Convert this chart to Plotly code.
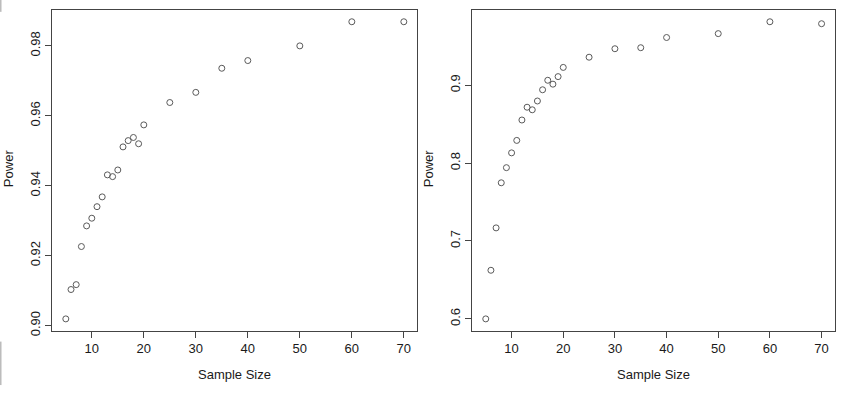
import plotly.graph_objects as go

sample_size = [5, 6, 7, 8, 9, 10, 11, 12, 13, 14, 15, 16, 17, 18, 19, 20, 25, 30, 35, 40, 50, 60, 70]
power_left = [0.9019, 0.9103, 0.9117, 0.9226, 0.9285, 0.9307, 0.9340, 0.9368, 0.9431, 0.9426,
              0.9445, 0.9511, 0.9529, 0.9538, 0.9520, 0.9574, 0.9638, 0.9667, 0.9736, 0.9758,
              0.9800, 0.9869, 0.9869]
power_right = [0.600, 0.6624, 0.7168, 0.7747, 0.7941, 0.8131, 0.8291, 0.8553, 0.8717, 0.8684,
               0.8797, 0.8941, 0.9063, 0.9013, 0.9110, 0.9228, 0.9359, 0.9468, 0.9481, 0.9612,
               0.9662, 0.9814, 0.9789]
left_ticks = [0.90, 0.92, 0.94, 0.96, 0.98]
right_ticks = [0.6, 0.7, 0.8, 0.9]
x_ticks = [10, 20, 30, 40, 50, 60, 70]
x_title = "Sample Size"
y_title = "Power"


def r_range(v):
    lo, hi = min(v), max(v)
    pad = (hi - lo) * 0.04
    return [lo - pad, hi + pad]


FONT = "Liberation Sans, Arial, sans-serif"
TXT = "#1a1a1a"
PT = "#5a5a5a"
LINE = "#444444"

fig = go.Figure()
for xa, ya, vals in (("x", "y", power_left), ("x2", "y2", power_right)):
    fig.add_trace(go.Scatter(x=sample_size, y=vals, mode="markers", xaxis=xa, yaxis=ya,
                             marker=dict(symbol="circle-open", size=6, color=PT, line=dict(width=1, color=PT)),
                             showlegend=False, hoverinfo="skip"))

ydom = [0.1497, 0.9746]
xd1 = [0.0618, 0.4933]
xd2 = [0.5583, 0.9870]

common_x = dict(showgrid=False, zeroline=False, showline=True, mirror=True, linecolor=LINE, linewidth=1,
                ticks="outside", ticklen=6, tickwidth=1, tickcolor=LINE, tickvals=x_ticks,
                tickfont=dict(family=FONT, size=13, color=TXT), range=r_range(sample_size))
common_y = dict(showgrid=False, zeroline=False, showline=True, mirror=True, linecolor=LINE, linewidth=1,
                ticks="outside", ticklen=6, tickwidth=1, tickcolor=LINE, tickangle=-90,
                tickfont=dict(family=FONT, size=13, color=TXT))

fig.update_layout(
    width=846, height=394,
    margin=dict(l=0, r=0, t=0, b=0),
    paper_bgcolor="white", plot_bgcolor="white",
    xaxis=dict(domain=xd1, anchor="y", **common_x),
    yaxis=dict(domain=ydom, anchor="x", tickvals=left_ticks, tickformat=".2f",
               range=r_range(power_left), **common_y),
    xaxis2=dict(domain=xd2, anchor="y2", **common_x),
    yaxis2=dict(domain=ydom, anchor="x2", tickvals=right_ticks, tickformat=".1f",
                range=r_range(power_right), **common_y),
)

ann_font = dict(family=FONT, size=13, color=TXT)
for xd in (xd1, xd2):
    fig.add_annotation(text=x_title, xref="paper", yref="paper", x=(xd[0] + xd[1]) / 2, y=(394 - 379) / 394,
                       showarrow=False, font=ann_font, xanchor="center", yanchor="middle")
    fig.add_annotation(text=y_title, xref="paper", yref="paper", x=xd[0] - 43 / 846, y=(394 - 170) / 394,
                       showarrow=False, font=ann_font, textangle=-90, xanchor="center", yanchor="middle")

# thin gray edge marks at far left, as in the reference image
fig.add_shape(type="line", xref="paper", yref="paper", x0=0.001, x1=0.001, y0=1, y1=(394 - 12) / 394,
              line=dict(color="#999999", width=1))
fig.add_shape(type="line", xref="paper", yref="paper", x0=0.001, x1=0.001, y0=(394 - 346) / 394, y1=(394 - 390) / 394,
              line=dict(color="#999999", width=1))

fig.write_html("out.html",
               config={"displayModeBar": False},
               post_script="document.body.style.margin='0';document.body.style.padding='0';"
                           "document.body.style.overflow='hidden';")
